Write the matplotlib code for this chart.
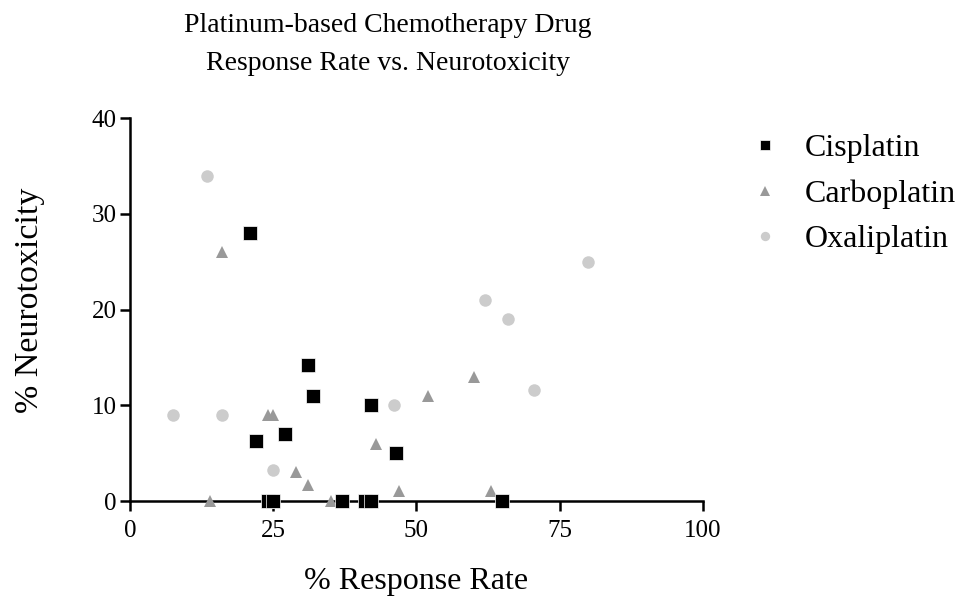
import matplotlib.pyplot as plt

plt.rcParams['font.family'] = ['Liberation Serif', 'DejaVu Serif']

# % response rate, % neurotoxicity
cis_x = [21, 31, 32, 42, 22, 27, 46.5, 24, 25, 37, 41, 42, 65]
cis_y = [28, 14.2, 11, 10, 6.3, 7, 5, 0, 0, 0, 0, 0, 0]

carbo_x = [16, 31, 24, 25, 14, 29, 31, 35, 43, 47, 52, 60, 63]
carbo_y = [26, 14, 9, 9, 0, 3, 1.7, 0, 6, 1, 11, 13, 1]

oxa_x = [13.5, 7.5, 16, 25, 46, 62, 66, 70.5, 80]
oxa_y = [34, 9, 9, 3.2, 10, 21, 19, 11.6, 25]

fig = plt.figure(figsize=(9.63, 6), dpi=100)
ax = fig.add_axes([0.135, 0.165, 0.595, 0.638])

ax.plot(cis_x, cis_y, 's', color='black', ms=9.5, mec='white', mew=0.5,
        clip_on=False, zorder=4, label='Cisplatin')
ax.plot(carbo_x, carbo_y, '^', color='#999999', ms=9, mew=0,
        clip_on=False, zorder=3, label='Carboplatin')
ax.plot(oxa_x, oxa_y, 'o', color='#cccccc', ms=9, mew=0,
        clip_on=False, zorder=2, label='Oxaliplatin')

ax.set_xlim(0, 100)
ax.set_ylim(0, 40)
ax.set_xticks([0, 25, 50, 75, 100])
ax.set_yticks([0, 10, 20, 30, 40])
for s in ['top', 'right']:
    ax.spines[s].set_visible(False)
for s in ['left', 'bottom']:
    ax.spines[s].set_linewidth(1.8)
ax.tick_params(direction='out', length=7.5, width=1.8, labelsize=18)
ax.tick_params(axis='x', pad=6)
ax.tick_params(axis='y', pad=2)

ax.set_xlabel('% Response Rate', fontsize=23, labelpad=18)
ax.set_ylabel('% Neurotoxicity', fontsize=24.5)
ax.yaxis.set_label_coords(-0.148, 0.525)
ax.set_title('Platinum-based Chemotherapy Drug\nResponse Rate vs. Neurotoxicity',
             fontsize=20, pad=35, linespacing=1.65, x=0.45)

leg = ax.legend(loc='upper left', bbox_to_anchor=(1.031, 1.034), frameon=False,
                fontsize=23, markerscale=0.75, handlelength=1, handletextpad=0.73,
                labelspacing=0.5)

fig.savefig('out.png', dpi=100)
